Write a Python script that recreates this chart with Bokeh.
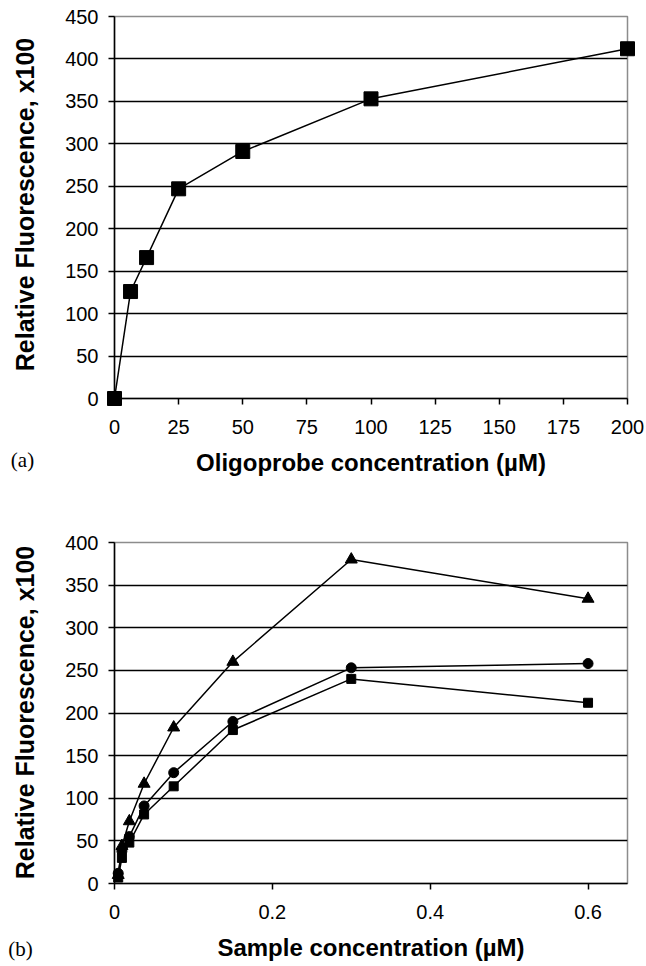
import math
from bokeh.plotting import figure
from bokeh.models import Range1d, FixedTicker, Label
from bokeh.layouts import column, row
from bokeh.embed import file_html
from bokeh.resources import INLINE

# ---- data: panel (a) ----
oligo_conc = [0, 6.25, 12.5, 25, 50, 100, 200]
oligo_fluor = [0, 126, 166, 247, 291, 353, 412]
oligo_xticks = [0, 25, 50, 75, 100, 125, 150, 175, 200]
oligo_yticks = [0, 50, 100, 150, 200, 250, 300, 350, 400, 450]

# ---- data: panel (b) ----
sample_conc = [0.0047, 0.0094, 0.0188, 0.0375, 0.075, 0.15, 0.3, 0.6]
tri_fluor = [10, 44, 73, 117, 183, 260, 380, 334]
circ_fluor = [12, 38, 55, 91, 130, 190, 253, 258]
sq_fluor = [7, 30, 48, 81, 114, 180, 240, 212]
sample_xticks = [0, 0.2, 0.4, 0.6]
sample_xlabels = ["0", "0.2", "0.4", "0.6"]
sample_yticks = [0, 50, 100, 150, 200, 250, 300, 350, 400]

y_title = "Relative Fluorescence, x100"
SANS = "Liberation Sans"
SERIF = "Liberation Serif"


def style(p, xticks, yticks, xlabel):
    p.outline_line_color = "#8c8c8c"
    p.outline_line_width = 1.5
    p.xgrid.visible = False
    p.ygrid.ticker = FixedTicker(ticks=yticks[1:-1])
    p.ygrid.grid_line_color = "black"
    p.ygrid.grid_line_width = 1.5
    p.xaxis.ticker = FixedTicker(ticks=xticks)
    p.yaxis.ticker = FixedTicker(ticks=yticks)
    for ax in (p.xaxis[0], p.yaxis[0]):
        ax.axis_line_color = "black"
        ax.axis_line_width = 1.5
        ax.major_tick_line_color = "black"
        ax.major_tick_line_width = 1.5
        ax.major_tick_out = 6
        ax.major_tick_in = 0
        ax.minor_tick_line_color = None
        ax.major_label_text_font = SANS
        ax.major_label_text_font_size = "20px"
        ax.major_label_text_color = "black"
        ax.axis_label_text_font = SANS
        ax.axis_label_text_font_style = "bold"
        ax.axis_label_text_font_size = "24px"
        ax.axis_label_text_color = "black"
    p.yaxis.major_label_standoff = 10
    p.xaxis.major_label_standoff = 15
    p.xaxis.axis_label_standoff = 12
    p.xaxis.axis_label = xlabel


# left strip holding the rotated y titles and the panel tags
STRIP_W, TOTAL_H = 48, 964
strip = figure(width=STRIP_W, height=TOTAL_H, output_backend="svg", toolbar_location=None,
               x_range=Range1d(0, STRIP_W), y_range=Range1d(0, TOTAL_H),
               x_axis_type=None, y_axis_type=None, min_border=0)
strip.outline_line_color = None
strip.grid.visible = False


def strip_label(text, px, py, **kw):
    # px, py: page pixel position from the top-left corner
    strip.add_layout(Label(x=px, y=TOTAL_H - py, text=text, text_color="black", **kw))


strip_label(y_title, 24, 204, angle=math.pi / 2, text_font=SANS,
            text_font_style="bold", text_font_size="25px",
            text_align="center", text_baseline="alphabetic")
strip_label(y_title, 24, 712, angle=math.pi / 2, text_font=SANS,
            text_font_style="bold", text_font_size="25px",
            text_align="center", text_baseline="alphabetic")
strip_label("(a)", 22, 459, text_font=SERIF, text_font_size="21px",
            text_align="center", text_baseline="middle")
strip_label("(b)", 20, 948, text_font=SERIF, text_font_size="21px",
            text_align="center", text_baseline="middle")

# ---- panel (a) ----
P_W = 597
p1 = figure(width=P_W, height=479, output_backend="svg", toolbar_location=None,
            x_range=Range1d(0, 200), y_range=Range1d(0, 450),
            min_border_left=66, min_border_right=18, min_border_top=16,
            min_border_bottom=81)
style(p1, oligo_xticks, oligo_yticks, "Oligoprobe concentration (µM)")
p1.line(oligo_conc, oligo_fluor, line_color="black", line_width=1.5)
p1.scatter(oligo_conc, oligo_fluor, marker="square", size=14,
           fill_color="black", line_color="black", level="overlay")

# ---- panel (b) ----
p2 = figure(width=P_W, height=TOTAL_H - 479, output_backend="svg", toolbar_location=None,
            x_range=Range1d(0, 0.65), y_range=Range1d(0, 400),
            min_border_left=60, min_border_right=12, min_border_top=63,
            min_border_bottom=81)
style(p2, sample_xticks, sample_yticks, "Sample concentration (µM)")
p2.xaxis.major_label_overrides = {t: s for t, s in zip(sample_xticks, sample_xlabels)}
for vals, mk, sz in ((tri_fluor, "triangle", 12), (circ_fluor, "circle", 10),
                     (sq_fluor, "square", 9)):
    p2.line(sample_conc, vals, line_color="black", line_width=1.5)
    p2.scatter(sample_conc, vals, marker=mk, size=sz,
               fill_color="black", line_color="black", level="overlay")

layout = row(strip, column(p1, p2, spacing=0), spacing=0)
open("out.html", "w").write(file_html(layout, INLINE))
